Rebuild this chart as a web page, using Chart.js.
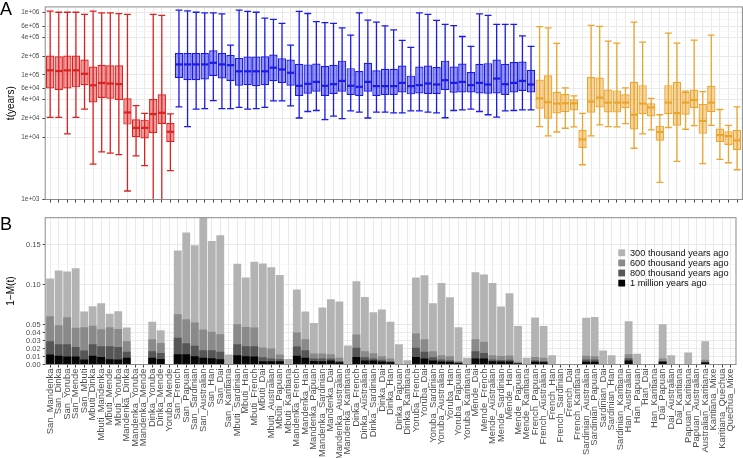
<!DOCTYPE html>
<html><head><meta charset="utf-8">
<script src="https://cdn.jsdelivr.net/npm/chart.js@4/dist/chart.umd.min.js"></script>
<style>
html,body{margin:0;padding:0;background:#fff;}
#wrap{position:relative;width:743px;height:458px;overflow:hidden;font-family:"Liberation Sans",Arial,sans-serif;background:#fff;}
#ca{position:absolute;left:0;top:0;}
#cb{position:absolute;left:0;top:210px;}
.lab{position:absolute;font-size:18px;color:#000;line-height:1;font-family:"Liberation Sans",Arial,sans-serif;}
</style></head><body>
<div id="wrap">
<canvas id="ca" width="743" height="210"></canvas>
<canvas id="cb" width="743" height="248"></canvas>
<div class="lab" style="left:0px;top:0px">A</div>
<div class="lab" style="left:0px;top:215px">B</div>
</div>
<script>
const cats = ["San_Mandenka","San_Dinka","San_Yoruba","San_Mende","San_Mbuti","Mbuti_Dinka","Mbuti_Mandenka","Mbuti_Mende","Mbuti_Yoruba","Mandenka_Dinka","Mandenka_Yoruba","Mandenka_Mende","Dinka_Yoruba","Dinka_Mende","Yoruba_Mende",
"San_French","San_Papuan","San_Sardinian","San_Australian","San_Han","San_Dai","San_Karitiana",
"Mbuti_Sardinian","Mbuti_Han","Mbuti_French","Mbuti_Dai","Mbuti_Australian","Mbuti_Papuan","Mbuti_Karitiana",
"Mandenka_French","Mandenka_Han","Mandenka_Papuan","Mandenka_Sardinian","Mandenka_Dai","Mandenka_Australian","Mandenka_Karitiana",
"Dinka_French","Dinka_Australian","Dinka_Sardinian","Dinka_Dai","Dinka_Han","Dinka_Papuan","Dinka_Karitiana",
"Yoruba_French","Yoruba_Dai","Yoruba_Sardinian","Yoruba_Australian","Yoruba_Han","Yoruba_Papuan","Yoruba_Karitiana",
"Mende_Dai","Mende_French","Mende_Australian","Mende_Sardinian","Mende_Han","Mende_Papuan","Mende_Karitiana",
"French_Papuan","French_Australian","French_Han","French_Sardinian","French_Dai","French_Karitiana",
"Sardinian_Australian","Sardinian_Papuan","Sardinian_Dai","Sardinian_Han","Sardinian_Karitiana",
"Han_Australian","Han_Papuan","Han_Dai","Han_Karitiana",
"Dai_Papuan","Dai_Australian","Dai_Karitiana",
"Papuan_Karitiana","Papuan_Australian",
"Australian_Karitiana",
"Karitiana_Mixe","Karitiana_Quechua","Quechua_Mixe"];

// group sizes: African-African (red), African-nonAfrican (blue), nonAfrican-nonAfrican (orange)
const groupSizes = [15, 42, 24];

// Panel A: t(years) box plots
const boxMin = [20800,20800,11300,20800,28100,3700,5800,5530,5260,1370,5000,3490,800,800,2900,
30700,14800,28200,28800,38600,28800,28800,
30000,28200,28800,30000,38100,38100,31800,
20300,25800,26800,19100,21800,19800,26500,
25200,20300,25200,25200,24600,24600,26500,
26500,25200,24600,20500,26800,27500,28200,
25800,22900,21000,26500,26800,27500,27500,
14800,10500,12100,13900,14600,3610,
10500,15700,14800,14600,16500,
6640,11300,13100,1880,
14300,4080,13400,
15300,3750,
15500,
4390,3890,3000];
const boxQ1 = [60500,57000,60500,63000,68000,35900,42600,41500,39500,15900,10000,9550,11700,16300,8350,
89200,82000,82000,84000,96000,87100,80000,
66700,68300,65900,68300,79000,74300,66700,
45800,49800,53600,45800,49200,53600,47500,
45800,53600,45800,47500,47500,52300,48600,
50400,49200,49200,56900,51700,52300,52300,
50400,49800,50400,47500,52300,54900,52300,
28500,19800,24000,25200,26800,6720,
24600,30000,24900,24900,29200,
13300,23400,21500,8770,
23400,15300,22900,
29200,11300,
25200,
8360,7490,6240];
const boxMed = [118000,115000,118000,118000,104000,68000,74000,72500,71000,24900,14100,14100,23500,24600,12200,
147000,147000,147000,147000,156000,147000,143000,
114000,114000,114000,114000,130000,122000,108000,
66700,71700,77100,66700,70800,80000,66700,
64300,77100,65900,65900,65900,74300,65900,
68300,72600,70000,82000,74300,77100,68300,
74300,70000,87100,70800,74300,80000,70000,
42000,36300,34600,35000,35000,9200,
37200,43100,35900,35900,35900,
22900,34600,30000,12100,
35900,24300,35900,
39500,18200,
35900,
10800,10400,8880];
const boxQ3 = [204000,199000,204000,204000,176000,136000,145000,142000,142000,42000,19300,19100,41000,48600,16900,
224000,224000,224000,224000,248000,224000,209000,
187000,197000,197000,199000,211000,185000,176000,
151000,147000,152000,138000,145000,169000,128000,
115000,156000,118000,125300,125300,141500,97100,
136000,141500,133000,169000,136000,152000,111000,
151000,154000,176000,151000,160000,163000,121000,
84000,98300,53600,49200,40500,13000,
92500,90300,58300,56300,48600,
77100,68300,35000,15300,
68300,77100,53600,
58300,34200,
66700,
13800,12500,13000];
const boxMax = [1050000,1010000,1010000,1010000,930000,1050000,990000,990000,960000,930000,32000,24000,930000,897000,23700,
1090000,1060000,1010000,988000,988000,953000,300000,
1090000,1040000,1010000,814000,775000,670000,300000,
1040000,964000,712000,686000,670000,565000,433000,
988000,756000,703000,608000,525000,356000,276000,
988000,930000,747000,646000,615000,412000,286000,
953000,897000,646000,646000,646000,422000,286000,
593000,565000,319000,62000,45800,24000,
622000,600000,348000,323000,62000,
703000,335000,42000,22900,
466000,323000,54900,
361000,53600,
433000,
27800,15500,30700];

// Panel B: 1-M(t)
const p300 = [0.1075,0.1175,0.1162,0.1204,0.0662,0.0729,0.0766,0.0633,0.0666,0.0462,0,0,0.0533,0.0429,0,
0.1425,0.165,0.149,0.185,0.1545,0.1616,0.0125,
0.1258,0.1088,0.1283,0.1262,0.1216,0.112,0.007,
0.0937,0.0662,0.052,0.0712,0.0816,0.0787,0.0237,
0.1041,0.0845,0.0654,0.0687,0.0533,0.0254,0.0054,
0.1087,0.1116,0.0766,0.102,0.0841,0.0466,0.0083,
0.1154,0.1125,0.102,0.0725,0.0891,0.0481,0.0085,
0.0589,0.0481,0.0116,0,0,0,
0.0583,0.0595,0.0175,0.0116,0,
0.0541,0.0133,0,0,
0.0504,0.0116,0,
0.015,0,
0.0291,
0,0,0];
const p600 = [0.0604,0.0491,0.0591,0.0458,0.0466,0.0483,0.0441,0.0466,0.0445,0.0291,0,0,0.0316,0.027,0,
0.0629,0.0566,0.0525,0.0437,0.0408,0.0379,0,
0.0504,0.047,0.0462,0.0212,0.02,0.0125,0,
0.04,0.0316,0.0137,0.0137,0.0129,0.0083,0,
0.0375,0.0166,0.0141,0.0104,0.0075,0,0,
0.0387,0.0316,0.0166,0.0116,0.0104,0.0045,0,
0.0316,0.0283,0.0116,0.0106,0.0112,0.0033,0,
0.0095,0.0083,0,0,0,0,
0.0108,0.0104,0,0,0,
0.0129,0,0,0,
0.0075,0,0,
0,0,
0.0058,
0,0,0];
const p800 = [0.0291,0.0254,0.0254,0.022,0.0175,0.0254,0.0229,0.0229,0.022,0.0158,0,0,0.0166,0.0145,0,
0.0333,0.0266,0.0233,0.0179,0.0179,0.0158,0,
0.0254,0.0229,0.0229,0.0091,0.0075,0.0066,0,
0.0225,0.0179,0.0075,0.0075,0.0075,0.0045,0,
0.0208,0.0091,0.0075,0.0058,0.0041,0,0,
0.0208,0.0158,0.0091,0.0062,0.0054,0.0029,0,
0.0166,0.0145,0.0062,0.0056,0.0058,0.002,0,
0.0054,0.0045,0,0,0,0,
0.0062,0.0062,0,0,0,
0.0079,0,0,0,
0.0045,0,0,
0,0,
0.0033,
0,0,0];
const p1M = [0.0125,0.0108,0.01,0.01,0.0062,0.0108,0.0095,0.0066,0.0062,0.0083,0,0,0.0083,0.007,0,
0.0129,0.0129,0.0104,0.0083,0.0079,0.0066,0,
0.0116,0.0104,0.01,0.0041,0.0041,0.0041,0,
0.0108,0.0083,0.0045,0.0041,0.005,0.0029,0,
0.0095,0.005,0.005,0.0037,0.0029,0,0,
0.0095,0.0075,0.005,0.0037,0.0033,0.002,0,
0.0075,0.0075,0.0041,0.0037,0.0037,0.0012,0,
0.0033,0.0029,0,0,0,0,
0.0033,0.0033,0,0,0,
0.005,0,0,0,
0.0033,0,0,
0,0,
0.0025,
0,0,0];

const yTicksA = [1e3,1e4,2e4,4e4,6e4,1e5,2e5,4e5,6e5,1e6];
const yLabelsA = ["1e+03","1e+04","2e+04","4e+04","6e+04","1e+05","2e+05","4e+05","6e+05","1e+06"];
const yTicksB = [0,0.01,0.02,0.03,0.04,0.05,0.10,0.15];
const yLabelsB = ["0.00","0.01","0.02","0.03","0.04","0.05","0.10","0.15"];
const legendLabels = ["300 thousand years ago","600 thousand years ago","800 thousand years ago","1 million years ago"];

const FONT = '"Liberation Sans", Arial, Helvetica, sans-serif';
const LINE = ["#dc2121", "#1b1be6", "#eba42d"];
const FILL = ["rgba(220,33,33,0.45)", "rgba(27,27,230,0.45)", "rgba(235,164,45,0.45)"];
const BARCOL = ["#b3b3b3", "#8a8a8a", "#565656", "#050505"];
const GRID = "#e9e9e9", GRIDMINOR = "#f3f3f3", FRAME = "#8a8a8a", TICK = "#444", TXT = "#4d4d4d";

const n = cats.length;
const idx = cats.map((_, i) => i);
function grp(i){ let s=0; for(let g=0; g<groupSizes.length; g++){ s+=groupSizes[g]; if(i<s) return g; } return groupSizes.length-1; }

// minor grid positions (midpoints between breaks)
const minorA = []; for (let k=0;k<yTicksA.length-1;k++) minorA.push(Math.sqrt(yTicksA[k]*yTicksA[k+1]));
const minorB = []; for (let k=0;k<yTicksB.length-1;k++) minorB.push((yTicksB[k]+yTicksB[k+1])/2);
const isIn = (arr, v) => arr.findIndex(t => Math.abs(t - v) <= Math.abs(t)*1e-6 + 1e-9);

const XMIN = -0.58, XMAX = 80.62;

const framePlugin = {
  id: 'frame',
  afterDraw(chart){
    const {ctx, chartArea: a} = chart;
    ctx.save(); ctx.strokeStyle = FRAME; ctx.lineWidth = 1;
    ctx.strokeRect(a.left, a.top, a.right - a.left, a.bottom - a.top);
    ctx.restore();
  }
};

const boxPlugin = {
  id: 'boxparts',
  beforeDatasetsDraw(chart){
    const {ctx, chartArea: a, scales: {x, y}} = chart;
    ctx.save();
    ctx.beginPath(); ctx.rect(a.left, a.top, a.right-a.left, a.bottom-a.top); ctx.clip();
    const step = x.getPixelForValue(1) - x.getPixelForValue(0);
    const cap = step * 0.4;
    ctx.lineWidth = 1.3;
    for (let i=0;i<n;i++){
      const px = x.getPixelForValue(i);
      const yT = y.getPixelForValue(boxMax[i]);
      const yB = y.getPixelForValue(boxMin[i]);
      ctx.strokeStyle = LINE[grp(i)];
      ctx.beginPath();
      ctx.moveTo(px, yT); ctx.lineTo(px, yB);
      ctx.moveTo(px-cap, yT); ctx.lineTo(px+cap, yT);
      ctx.moveTo(px-cap, yB); ctx.lineTo(px+cap, yB);
      ctx.stroke();
    }
    ctx.restore();
  },
  afterDatasetsDraw(chart){
    const {ctx, scales: {y}} = chart;
    const meta = chart.getDatasetMeta(0);
    ctx.save(); ctx.lineWidth = 2.2;
    meta.data.forEach((el, i) => {
      const py = y.getPixelForValue(boxMed[i]);
      ctx.strokeStyle = LINE[grp(i)];
      ctx.beginPath(); ctx.moveTo(el.x - el.width/2 + 0.5, py); ctx.lineTo(el.x + el.width/2 - 0.5, py); ctx.stroke();
    });
    ctx.restore();
  }
};

const legendPlugin = {
  id: 'legendB',
  afterDatasetsDraw(chart){
    const {ctx} = chart;
    ctx.save();
    ctx.font = '9.2px ' + FONT;
    ctx.textBaseline = 'middle'; ctx.textAlign = 'left';
    legendLabels.forEach((t, k) => {
      const cy = 42.8 + k*10.1;
      ctx.fillStyle = BARCOL[k];
      ctx.fillRect(618.3, cy - 3.4, 6.8, 6.8);
      ctx.fillStyle = '#111';
      ctx.fillText(t, 630, cy + 0.3);
    });
    ctx.restore();
  }
};

function xScale(h, showLabels){
  return {
    type: 'linear', min: XMIN, max: XMAX, offset: false,
    afterBuildTicks: s => { s.ticks = idx.map(v => ({value: v})); },
    afterFit: s => { s.height = h; },
    grid: {color: GRID, lineWidth: 1, tickColor: TICK, tickLength: 3, offset: false, drawTicks: true},
    border: {display: false},
    ticks: showLabels ? {autoSkip: false, minRotation: 90, maxRotation: 90, padding: 1, color: TXT,
      font: {family: FONT, size: 9.4}, callback: v => cats[v]} : {display: false}
  };
}

// Chart A
new Chart(document.getElementById('ca'), {
  type: 'bar',
  data: {
    datasets: [{
      data: idx.map(i => ({x: i, y: [boxQ1[i], boxQ3[i]]})),
      backgroundColor: idx.map(i => FILL[grp(i)]),
      borderColor: idx.map(i => LINE[grp(i)]),
      borderWidth: 1.2, borderSkipped: false,
      barPercentage: 0.97, categoryPercentage: 1
    }]
  },
  options: {
    responsive: false, animation: false, devicePixelRatio: 1,
    layout: {padding: {left: 0, right: 0.6, top: 4, bottom: 0}},
    plugins: {legend: {display: false}, tooltip: {enabled: false}},
    scales: {
      x: xScale(10.5, false),
      y: {
        type: 'logarithmic', min: 1000, max: 1.23e6,
        afterBuildTicks: s => { s.ticks = yTicksA.concat(minorA).sort((a,b)=>a-b).map(v => ({value: v})); },
        afterFit: s => { s.width = 45.2; },
        grid: {
          color: c => (c.tick && isIn(yTicksA, c.tick.value) >= 0) ? GRID : GRIDMINOR,
          lineWidth: c => (c.tick && isIn(yTicksA, c.tick.value) >= 0) ? 1 : 0.7,
          tickColor: c => (c.tick && isIn(yTicksA, c.tick.value) >= 0) ? TICK : 'rgba(0,0,0,0)',
          tickLength: 2.75
        },
        border: {display: false},
        ticks: {autoSkip: false, padding: 3, color: TXT, font: {family: FONT, size: 6.5},
          callback: v => { const k = isIn(yTicksA, v); return k >= 0 ? yLabelsA[k] : ''; }},
        title: {display: true, text: 't(years)', color: '#000', font: {family: FONT, size: 10}, padding: {top: 5.5, bottom: 0}}
      }
    }
  },
  plugins: [boxPlugin, framePlugin]
});

// Chart B (overlaid bars; first dataset drawn on top)
const seriesB = [p1M, p800, p600, p300];
const colB = [BARCOL[3], BARCOL[2], BARCOL[1], BARCOL[0]];
new Chart(document.getElementById('cb'), {
  type: 'bar',
  data: {
    datasets: seriesB.map((s, k) => ({
      data: idx.map(i => ({x: i, y: s[i]})),
      backgroundColor: colB[k], borderWidth: 0, grouped: false,
      barPercentage: 0.92, categoryPercentage: 1
    }))
  },
  options: {
    responsive: false, animation: false, devicePixelRatio: 1,
    layout: {padding: {left: 0, right: 0.6, top: 7.7, bottom: 0}},
    plugins: {legend: {display: false}, tooltip: {enabled: false}},
    scales: {
      x: xScale(93.5, true),
      y: {
        type: 'linear', min: 0, max: 0.1835,
        afterBuildTicks: s => { s.ticks = yTicksB.concat(minorB).sort((a,b)=>a-b).map(v => ({value: v})); },
        afterFit: s => { s.width = 45.2; },
        grid: {
          color: c => (c.tick && isIn(yTicksB, c.tick.value) >= 0) ? GRID : GRIDMINOR,
          lineWidth: c => (c.tick && isIn(yTicksB, c.tick.value) >= 0) ? 1 : 0.7,
          tickColor: c => (c.tick && isIn(yTicksB, c.tick.value) >= 0) ? TICK : 'rgba(0,0,0,0)',
          tickLength: 2.5
        },
        border: {display: false},
        ticks: {autoSkip: false, padding: 2, color: TXT, font: {family: FONT, size: 7.5},
          callback: v => { const k = isIn(yTicksB, v); return k >= 0 ? yLabelsB[k] : ''; }},
        title: {display: true, text: '1\u2212M(t)', color: '#000', font: {family: FONT, size: 10}, padding: {top: 5, bottom: 0}}
      }
    }
  },
  plugins: [legendPlugin, framePlugin]
});
</script>
</body></html>
